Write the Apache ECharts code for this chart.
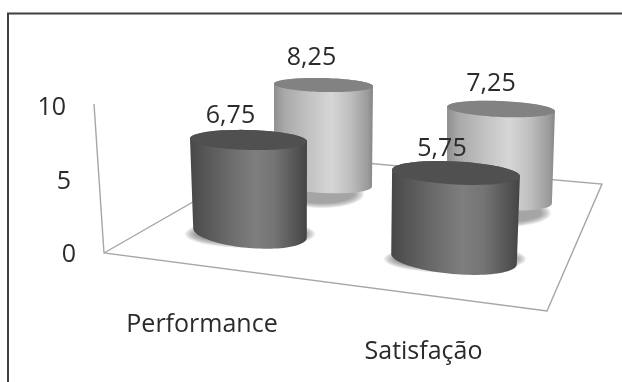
<!DOCTYPE html>
<html>
<head>
<meta charset="utf-8">
<style>html,body{margin:0;padding:0;background:#fff}#chart{width:622px;height:382px}</style>
<script src="https://cdn.jsdelivr.net/npm/echarts@6/dist/echarts.min.js"></script>
</head>
<body>
<div id="chart"></div>
<script>
// Values per category
const categories = ['Performance', 'Satisfação'];
const frontValues = [6.75, 5.75];
const backValues = [8.25, 7.25];
const axisTicks = [0, 5, 10];

const FONT = '"Open Sans"';
const FONT_SIZE = 25;
const TEXT = '#2b2b2b';

// Perspective: each cylinder sits in its own small grid, since a unit of height
// shrinks with depth. cx/rx are the cap, baseY the floor position, unit px per value.
const frontSlots = [
  { cx: 248.5, rx: 58.5, baseY: 233, unit: 13.78, baseDx: 1.5, baseRx: 57, capRy: 10, baseRy: 15, capTilt: 1.5, baseTilt: 5,
    shadow: [250, 234, 65, 14], labelDx: -18, labelDy: -24, catShift: -46.5, catMargin: 79 },
  { cx: 456, rx: 64, baseY: 259, unit: 14.96, baseDx: -2, baseRx: 63, capRy: 11.5, baseRy: 15, capTilt: 3, baseTilt: 5,
    shadow: [455, 259, 71, 14], labelDx: -14, labelDy: -24, catShift: -32.5, catMargin: 80 }
];
const backSlots = [
  { cx: 323.5, rx: 49.5, baseY: 184, unit: 12, baseDx: -0.5, baseRx: 49, capRy: 7, baseRy: 9, capTilt: 1.5, baseTilt: 3,
    shadow: [322, 194, 42, 14], labelDx: -12, labelDy: -27 },
  { cx: 501, rx: 54, baseY: 200, unit: 12.55, baseDx: -1.5, baseRx: 52.5, capRy: 8, baseRy: 10, capTilt: 2.5, baseTilt: 4,
    shadow: [503, 213, 48, 14], labelDx: -10, labelDy: -25 }
];

const skin = {
  front: {
    body: [[0, '#474747'], [0.12, '#555555'], [0.35, '#6c6c6c'], [0.55, '#7e7e7e'], [0.72, '#747474'], [0.92, '#525252'], [1, '#444444']],
    cap: '#505050', shadow: 'rgba(90,90,90,0.11)'
  },
  back: {
    body: [[0, '#8e8e8e'], [0.1, '#a8a8a8'], [0.35, '#c2c2c2'], [0.58, '#d6d6d6'], [0.78, '#bdbdbd'], [0.95, '#9a9a9a'], [1, '#858585']],
    cap: '#828282', shadow: 'rgba(110,110,110,0.12)'
  }
};

// Points along half an ellipse, from the given start angle over 180 degrees
function arc(cx, cy, rx, ry, tilt, from) {
  const pts = [];
  const t = tilt * Math.PI / 180;
  for (let i = 0; i <= 48; i++) {
    const a = from + Math.PI * i / 48;
    const x = rx * Math.cos(a), y = ry * Math.sin(a);
    pts.push([cx + x * Math.cos(t) - y * Math.sin(t), cy + x * Math.sin(t) + y * Math.cos(t)]);
  }
  return pts;
}

// Soft contact shadow built from stacked translucent ellipses
function softShadow(s, color) {
  const layers = [];
  for (let k = 0; k < 7; k++) {
    layers.push({
      type: 'ellipse',
      shape: { cx: s[0], cy: s[1], rx: s[2] - k * 1.6, ry: s[3] - k * 0.8 },
      style: { fill: color }
    });
  }
  return layers;
}

function cylinderRenderer(slot, look) {
  return function (params, api) {
    const cat = api.value(0), v = api.value(1);
    const top = api.coord([cat, v]);
    const base = api.coord([cat, 0]);
    const rx = api.size([1, 0])[0] / 2;
    const bx = base[0] + slot.baseDx;
    const capEdge = arc(top[0], top[1], rx, slot.capRy, slot.capTilt, Math.PI);
    const baseEdge = arc(bx, base[1], slot.baseRx, slot.baseRy, slot.baseTilt, 0);
    return {
      type: 'group',
      children: softShadow(slot.shadow, look.shadow).concat([
        {
          type: 'polygon',
          shape: { points: capEdge.concat(baseEdge) },
          style: { fill: { type: 'linear', x: 0, y: 0, x2: 1, y2: 0, colorStops: look.body.map(c => ({ offset: c[0], color: c[1] })) } }
        },
        {
          type: 'polygon',
          shape: { points: capEdge.concat(arc(top[0], top[1], rx, slot.capRy, slot.capTilt, 0)) },
          style: { fill: look.cap }
        },
        {
          type: 'text',
          z2: 50,
          style: {
            x: top[0] + slot.labelDx, y: top[1] + slot.labelDy,
            text: String(v).replace('.', ','),
            fontFamily: FONT, fontSize: FONT_SIZE, fill: TEXT, align: 'center', verticalAlign: 'middle'
          }
        }
      ])
    };
  };
}

const tickStyle = { fontFamily: FONT, fontSize: FONT_SIZE, color: TEXT };
const grids = [{ left: 80, top: 108, width: 520, height: 147 }];
const xAxes = [{ type: 'category', gridIndex: 0, data: [''], show: false }];
const yAxes = [{
  type: 'value', gridIndex: 0, min: 0, max: 10, interval: 5,
  axisLine: { show: false }, axisTick: { show: false }, splitLine: { show: false },
  axisLabel: {
    margin: 4,
    // The wall leans left with height, so higher ticks sit further out
    formatter: v => axisTicks.includes(v) ? `{t${v}|${v}}` : '',
    rich: {
      t0: { ...tickStyle, padding: [0, 0, 0, 0] },
      t5: { ...tickStyle, padding: [0, 5, 0, 0] },
      t10: { ...tickStyle, padding: [0, 10, 0, 0] }
    }
  }
}];

const series = [];
function addCylinder(slot, value, catIndex, look, z, showCategory) {
  const g = grids.length;
  grids.push({ left: slot.cx - slot.rx, width: slot.rx * 2, top: slot.baseY - 10 * slot.unit, height: 10 * slot.unit });
  xAxes.push({
    type: 'category', gridIndex: g, data: [categories[catIndex]],
    axisLine: { show: false }, axisTick: { show: false },
    axisLabel: showCategory ? {
      show: true, interval: 0, margin: slot.catMargin, color: TEXT, fontFamily: FONT, fontSize: FONT_SIZE,
      padding: [0, -slot.catShift * 2, 0, 0]
    } : { show: false }
  });
  yAxes.push({ type: 'value', gridIndex: g, min: 0, max: 10, show: false, splitLine: { show: false } });
  series.push({
    type: 'custom', coordinateSystem: 'cartesian2d', xAxisIndex: g, yAxisIndex: g, z,
    clip: false, silent: true,
    data: [[categories[catIndex], value]],
    renderItem: cylinderRenderer(slot, look)
  });
}

backValues.forEach((v, i) => addCylinder(backSlots[i], v, i, skin.back, 3, false));
frontValues.forEach((v, i) => addCylinder(frontSlots[i], v, i, skin.front, 4, true));

const chart = echarts.init(document.getElementById('chart'), null, { renderer: 'canvas' });
const wireStyle = { stroke: '#a6a6a6', lineWidth: 1.4, fill: null };
const frameStyle = { stroke: '#3f3f3f', lineWidth: 2, fill: null };
chart.setOption({
  animation: false,
  backgroundColor: '#ffffff',
  grid: grids,
  xAxis: xAxes,
  yAxis: yAxes,
  series,
  graphic: {
    elements: [
      { type: 'polyline', z: 1, shape: { points: [[8, 382], [8, 13.5], [622, 13.5]] }, style: frameStyle },
      // Floor outline and leaning value wall
      { type: 'polyline', z: 1, shape: { points: [[94, 104], [104, 253], [547, 311], [602, 184], [275, 155], [104, 253]] }, style: wireStyle }
    ]
  }
});
</script>
</body>
</html>
